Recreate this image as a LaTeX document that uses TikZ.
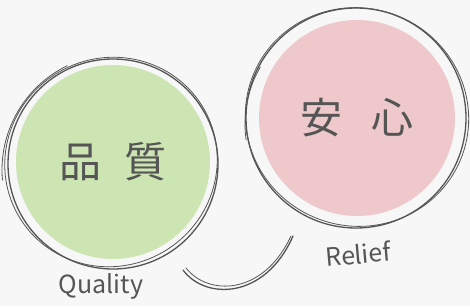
\documentclass[tikz,border=0pt]{standalone}
\usepackage{fontspec}
\newfontfamily\cjk{Noto Sans CJK JP}
\usetikzlibrary{positioning}
\definecolor{paper}{HTML}{F7F7F7}
\definecolor{qualitygreen}{HTML}{CCE5B3}
\definecolor{reliefpink}{HTML}{EEC8CA}
\definecolor{pencil}{HTML}{555555}

\begin{document}
\begin{tikzpicture}[x=1pt,y=-1pt,
  blob/.style={circle, inner sep=0pt, text=pencil, font=\cjk\fontsize{42}{46}\selectfont},
  pencilline/.style={draw=pencil, line width=1.3pt, line cap=round},
  faint/.style={draw=pencil, line width=0.8pt, line cap=round},
  caption/.style={text=pencil, font=\cjk\fontsize{25}{28}\selectfont}]
% hoja
\useasboundingbox[fill=paper] (0,0) rectangle (470,306);
% circulos rellenos
\node[blob, fill=qualitygreen, minimum size=194pt] (quality) at (113,162) {品\hspace{0.55em}質};
\node[blob, fill=reliefpink, minimum size=196pt] (relief) at (357,118) {安\hspace{0.7em}心};
% trazos a lapiz alrededor
\draw[pencilline] ([shift={(0,2)}]quality.center) circle[radius=105pt];
\draw[faint] ([shift={(-2,0)}]quality.center) circle[x radius=107pt, y radius=104pt, rotate=30];
\draw[faint] ([shift={(5,8)}]quality.center) ++(185:116pt) arc[start angle=185, end angle=116, radius=116pt];
\draw[pencilline] ([shift={(-1,0)}]relief.center) circle[radius=110pt];
\draw[faint] ([shift={(0,-1)}]relief.center) circle[x radius=112pt, y radius=109pt, rotate=-20];
\draw[faint] ([shift={(2,6)}]relief.center) ++(188:114pt) arc[start angle=188, end angle=150, radius=114pt];
% etiquetas
\node[caption, below=11pt of quality, xshift=-12pt] (qualitylabel) {Quality};
\node[caption, rotate=5, below=24pt of relief] (relieflabel) {Relief};
% arco que une
\coordinate (arcstart) at (183,270);
\coordinate (arcend) at (293,236);
\draw[pencilline] (arcstart) .. controls (205,300) and (265,300) .. (arcend);
\draw[faint] ([shift={(3,-2)}]arcstart) .. controls (208,296) and (263,296) .. ([shift={(-2,0)}]arcend);
\end{tikzpicture}
\end{document}
